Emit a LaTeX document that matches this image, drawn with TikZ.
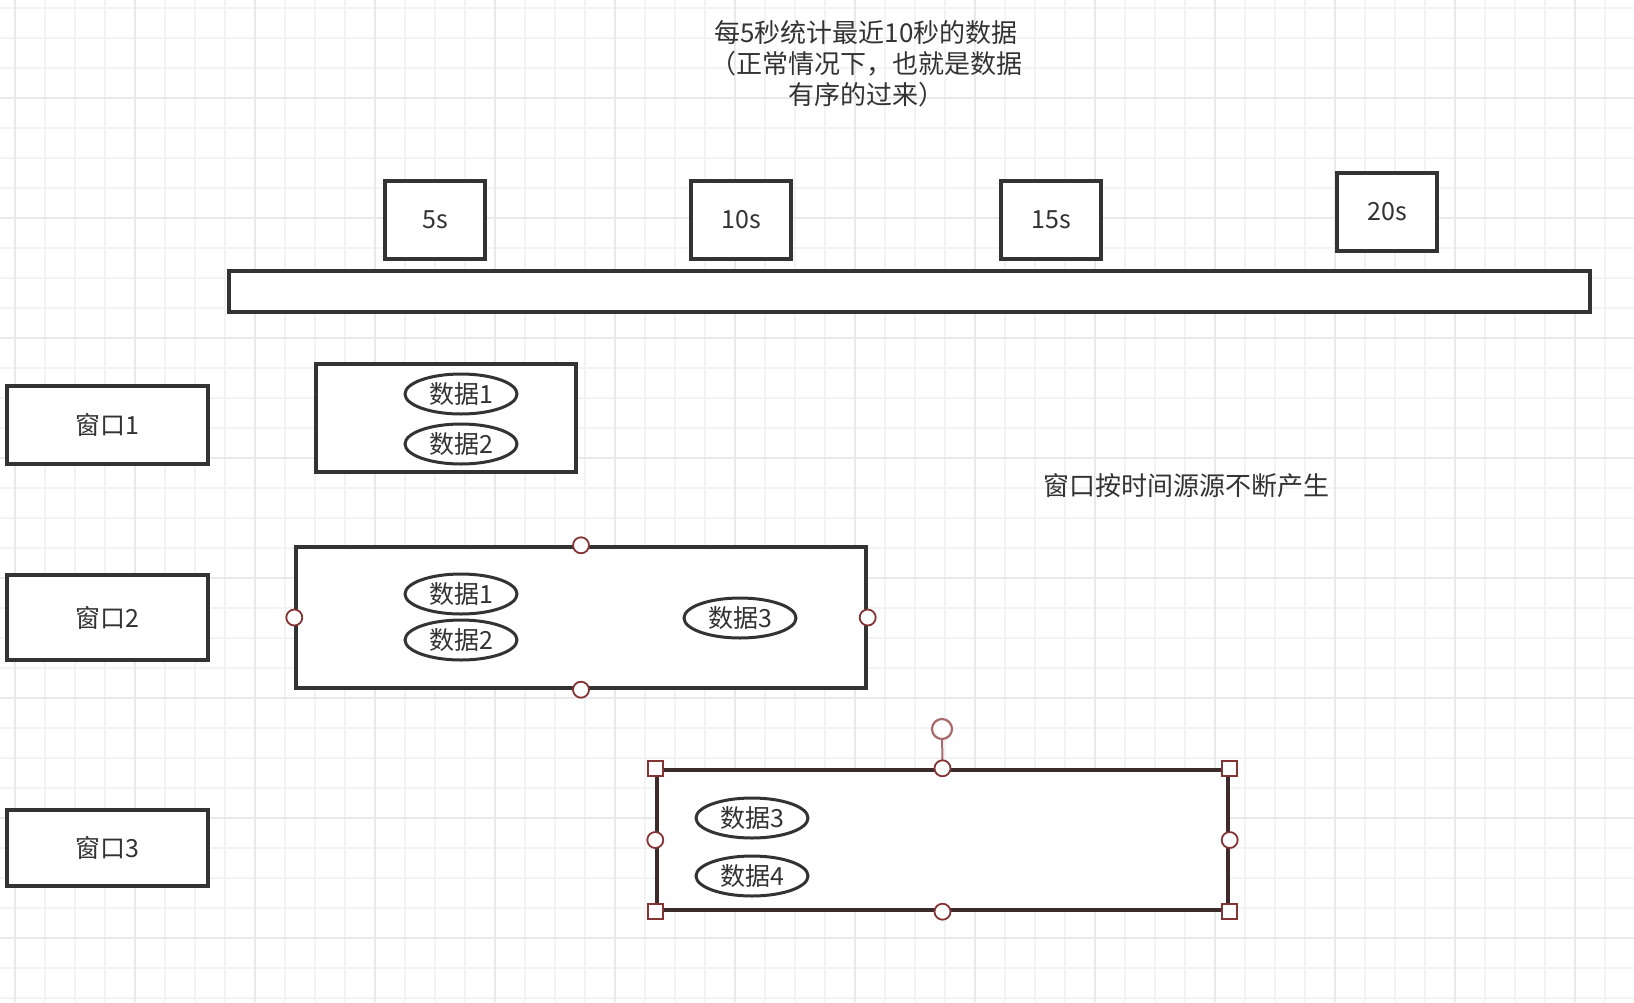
\documentclass[tikz,border=0pt]{standalone}
\usepackage{fontspec}
\setmainfont{Noto Sans CJK SC}
\usetikzlibrary{positioning, shapes.geometric}
\definecolor{inkgray}{HTML}{333333}
\definecolor{gridminor}{HTML}{F3F3F3}
\definecolor{gridmajor}{HTML}{E9E9E9}
\definecolor{handlered}{HTML}{833535}
\definecolor{rotred}{HTML}{A86A6A}
\definecolor{selink}{HTML}{3D2B2B}

\tikzset{
  box/.style={draw=inkgray, line width=1.7pt, fill=white, inner sep=0pt, text=inkgray},
  datum/.style={ellipse, draw=inkgray, line width=1.5pt, fill=white, inner sep=0pt,
    minimum width=56pt, minimum height=20pt, text=inkgray},
  handle/.style={circle, draw=handlered, line width=0.9pt, fill=white, inner sep=0pt, minimum size=8pt},
  grip/.style={rectangle, draw=handlered, line width=0.9pt, fill=white, inner sep=0pt, minimum size=7.5pt}
}

\begin{document}
\begin{tikzpicture}[x=0.5pt, y=-0.5pt, font=\fontsize{12.5}{15.5}\selectfont]
  \useasboundingbox (0,0) rectangle (1634,1002);
  \fill[white] (0,0) rectangle (1634,1002);
  % grid
  \foreach \gx in {15,45,...,1634}
    \draw[gridminor, line width=1pt] (\gx,0) -- (\gx,1002);
  \foreach \gy in {8,38,...,1002}
    \draw[gridminor, line width=1pt] (0,\gy) -- (1634,\gy);
  \foreach \gx in {15,135,...,1634}
    \draw[gridmajor, line width=1pt] (\gx,0) -- (\gx,1002);
  \foreach \gy in {98,218,...,1002}
    \draw[gridmajor, line width=1pt] (0,\gy) -- (1634,\gy);

  % heading
  \node[text=inkgray, align=center, font=\fontsize{13}{15.5}\selectfont] (heading) at (866,64)
    {每5秒统计最近10秒的数据\\（正常情况下，也就是数据\\有序的过来）};

  % time marks
  \node[box, minimum width=50pt, minimum height=39pt] (t5) at (435,220) {5s};
  \node[box, minimum width=50pt, minimum height=39pt] (t10) at (741,220) {10s};
  \node[box, minimum width=50pt, minimum height=39pt] (t15) at (1051,220) {15s};
  \node[box, minimum width=50pt, minimum height=39pt] (t20) at (1387,212) {20s};
  \node[box, minimum width=680.5pt, minimum height=20.5pt] (timeline) at (909.5,291.5) {};

  % window labels
  \node[box, minimum width=100.5pt, minimum height=39pt] (win1) at (107.5,425) {窗口1};
  \node[box, minimum width=100.5pt, minimum height=42.5pt] (win2) at (107.5,617.5) {窗口2};
  \node[box, minimum width=100.5pt, minimum height=38pt] (win3) at (107.5,848) {窗口3};

  % window contents
  \node[box, minimum width=130pt, minimum height=54pt] (w1) at (446,418) {};
  \node[datum] (w1d1) at (461,394) {数据1};
  \node[datum] (w1d2) at (461,444) {数据2};

  \node[box, minimum width=285pt, minimum height=70.5pt] (w2) at (581,617.5) {};
  \node[datum] (w2d1) at (461,594) {数据1};
  \node[datum] (w2d2) at (461,640) {数据2};
  \node[datum] (w2d3) at (740,618) {数据3};
  \foreach \side in {north,south,east,west}
    \node[handle] at (w2.\side) {};

  \node[box, draw=selink, minimum width=285.5pt, minimum height=70pt] (w3) at (942.5,840) {};
  \node[datum] (w3d3) at (752,818) {数据3};
  \node[datum] (w3d4) at (752,876) {数据4};
  \coordinate (rot) at (942,729);
  \draw[rotred, line width=1pt] (w3.north) -- (rot);
  \node[circle, draw=rotred, line width=1.1pt, fill=white, inner sep=0pt, minimum size=10pt] (rotknob) at (rot) {};
  \foreach \side in {north,south,east,west}
    \node[handle] at (w3.\side) {};
  \foreach \corner in {north east,north west,south east,south west}
    \node[grip] at (w3.\corner) {};

  \node[text=inkgray, font=\fontsize{13}{15.5}\selectfont] (note) at (1186,486) {窗口按时间源源不断产生};
\end{tikzpicture}
\end{document}
